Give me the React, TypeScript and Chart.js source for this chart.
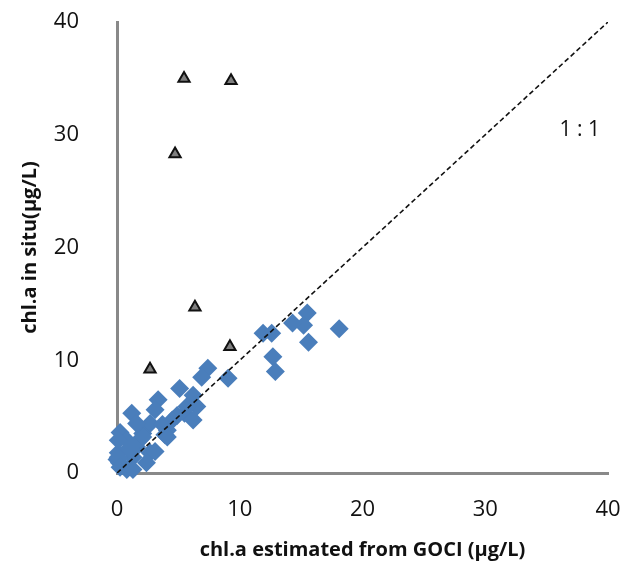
import React, { useEffect, useRef } from "react";
import { Chart, registerables } from "chart.js";

Chart.register(...registerables);

// GOCI-estimated (x) vs in-situ (y) chl.a, μg/L
const diamondX = [18.1, 15.5, 15.2, 15.6, 14.3, 11.9, 12.6, 12.7, 12.9, 9.05, 7.4, 6.9, 5.1, 6.2, 6.5, 5.5, 4.9, 3.35, 3.1, 1.2, 4.1, 3.9, 2.7, 2.1, 0.25, 0.8, 2.7, 1.6, 1.3, 0.1, 0.2, 0.8, 0.0, 1.9, 1.06, 4.5, 5.7, 0.1, 0.1, 0.25, 1.3, 2.4, 3.1, 1.6, 3.7, 6.2, 4.1, 2.1, 1.1];
const diamondY = [12.8, 14.2, 13.1, 11.6, 13.3, 12.4, 12.4, 10.3, 9.0, 8.4, 9.3, 8.5, 7.5, 6.9, 5.9, 5.3, 5.1, 6.5, 5.6, 5.3, 3.8, 3.4, 4.4, 3.5, 3.6, 2.9, 1.8, 2.3, 1.4, 1.8, 0.9, 0.3, 1.2, 3.0, 2.0, 4.7, 5.9, 2.9, 1.4, 0.5, 0.3, 0.9, 1.9, 4.4, 4.3, 4.7, 3.2, 3.2, 2.3];
const triangleX = [5.46, 9.29, 4.73, 6.35, 9.2, 2.69];
const triangleY = [35.0, 34.8, 28.3, 14.7, 11.2, 9.2];
const lineX = [0, 40];
const lineY = [0, 40];
const ticks = [0, 10, 20, 30, 40];
const xTitle = "chl.a estimated from GOCI (μg/L)";
const yTitle = "chl.a in situ(μg/L)";
const lineLabel = "1 : 1";
const lineLabelPos = { x: 37.7, y: 30.4 };

const FONT = "'Open Sans', 'Noto Sans', sans-serif";

export default function App() {
  const ref = useRef<HTMLCanvasElement>(null);
  useEffect(() => {
    document.body.style.margin = "0";
    const labelPlugin = {
      id: "lineLabel",
      afterDatasetsDraw(chart: any) {
        const { ctx, scales } = chart;
        ctx.save();
        ctx.font = `21px ${FONT}`;
        ctx.fillStyle = "#111";
        ctx.textAlign = "center";
        ctx.textBaseline = "middle";
        ctx.fillText(lineLabel, scales.x.getPixelForValue(lineLabelPos.x), scales.y.getPixelForValue(lineLabelPos.y));
        ctx.restore();
      },
    };
    const chart = new Chart(ref.current!, {
      type: "scatter",
      data: {
        datasets: [
          {
            type: "line",
            data: lineX.map((x, i) => ({ x, y: lineY[i] })),
            borderColor: "#111",
            borderWidth: 1.6,
            borderDash: [5, 3],
            pointRadius: 0,
            order: 0,
          } as any,
          {
            data: triangleX.map((x, i) => ({ x, y: triangleY[i] })),
            pointStyle: "triangle",
            pointRadius: 6.5,
            backgroundColor: "#7f7f7f",
            borderColor: "#111",
            borderWidth: 2,
            clip: false,
            order: 1,
          },
          {
            data: diamondX.map((x, i) => ({ x, y: diamondY[i] })),
            pointStyle: "rectRot",
            pointRadius: 9.5,
            backgroundColor: "#4a7ebb",
            borderColor: "#4a7ebb",
            borderWidth: 0,
            clip: false,
            order: 2,
          },
        ],
      },
      options: {
        animation: false,
        responsive: false,
        maintainAspectRatio: false,
        layout: { padding: { top: 22, right: 30, left: 14, bottom: 0 } },
        plugins: { legend: { display: false }, tooltip: { enabled: false } },
        scales: {
          x: {
            type: "linear",
            min: 0,
            max: 40,
            afterBuildTicks: (s: any) => { s.ticks = ticks.map((v) => ({ value: v })); },
            afterFit: (s: any) => { s.height = 566 - 473; s.paddingLeft = 0; s.paddingRight = 0; },
            grid: { display: false },
            border: { display: true, color: "#898989", width: 3 },
            ticks: { color: "#111", font: { family: FONT, size: 22 }, padding: 16 },
            title: { display: true, text: xTitle, color: "#111", font: { family: FONT, size: 20, weight: "bold" }, padding: { top: 2 } },
          },
          y: {
            type: "linear",
            min: 0,
            max: 40,
            afterBuildTicks: (s: any) => { s.ticks = ticks.map((v) => ({ value: v })); },
            afterFit: (s: any) => { s.width = 103; s.paddingTop = 0; s.paddingBottom = 0; },
            grid: { display: false },
            border: { display: true, color: "#898989", width: 3 },
            ticks: { color: "#111", font: { family: FONT, size: 22 }, padding: 30 },
            title: { display: true, text: yTitle, color: "#111", font: { family: FONT, size: 20, weight: "bold" }, padding: { bottom: 0 } },
          },
        },
      },
      plugins: [labelPlugin],
    } as any);
    return () => chart.destroy();
  }, []);
  return (
    <div style={{ width: 638, height: 566, background: "#fff" }}>
      <canvas ref={ref} width={638} height={566} />
    </div>
  );
}
